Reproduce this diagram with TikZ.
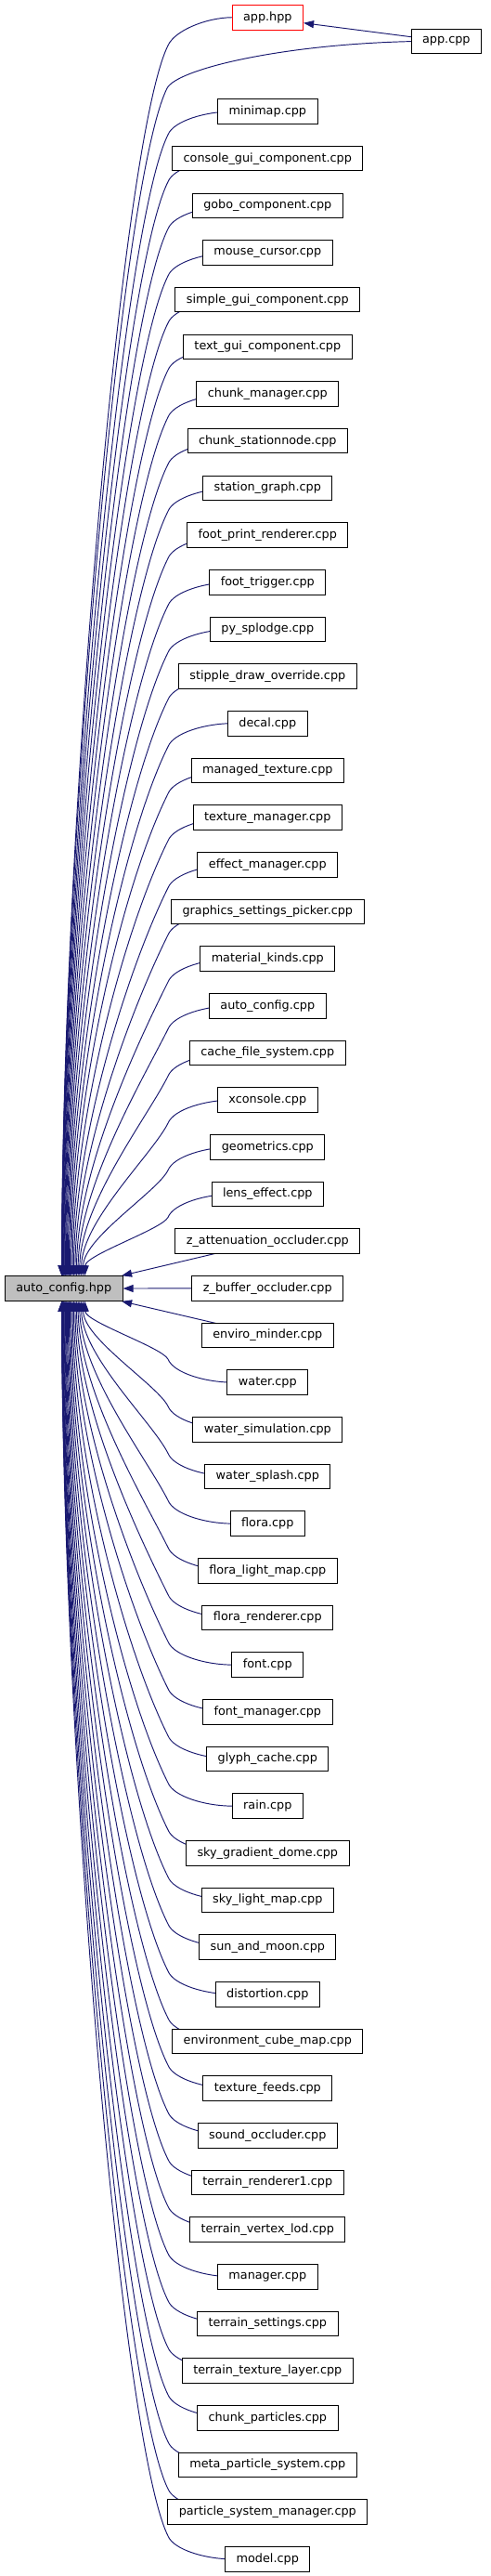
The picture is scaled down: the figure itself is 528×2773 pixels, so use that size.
\documentclass[tikz,border=0pt]{standalone}
\usepackage{fontspec}
\setmainfont{DejaVu Sans}
\usetikzlibrary{arrows.meta,calc}
\pgfdeclarelayer{bg}
\pgfsetlayers{bg,main}
\definecolor{edgeblue}{HTML}{191970}
\definecolor{hdrgray}{HTML}{BFBFBF}
\tikzset{
  filebox/.style={draw=black, fill=white, line width=1pt, minimum height=26.6pt,
    inner xsep=12pt, inner ysep=0pt, font=\fontsize{12.8}{15}\selectfont},
  incl/.style={draw=edgeblue, line width=0.95pt, -{Triangle[length=11pt,width=8pt]}}
}
\begin{document}
\begin{tikzpicture}[x=1pt,y=-1pt]
\begin{pgfonlayer}{bg}
  \fill[white] (0,0) rectangle (528,2773);
\end{pgfonlayer}
\useasboundingbox (0,0) rectangle (528,2773);

\node[filebox, draw=red] (apphpp) at (288.3,18.75) {app.hpp};
\node[filebox] (appcpp) at (480.8,44.6) {app.cpp};
\node[filebox, fill=hdrgray] (ac) at (68.7,1387) {auto\_config.hpp};

\foreach \i/\lab in {1/minimap.cpp, 2/console\_gui\_component.cpp, 3/gobo\_component.cpp,
  4/mouse\_cursor.cpp, 5/simple\_gui\_component.cpp, 6/text\_gui\_component.cpp,
  7/chunk\_manager.cpp, 8/chunk\_stationnode.cpp, 9/station\_graph.cpp,
  10/foot\_print\_renderer.cpp, 11/foot\_trigger.cpp, 12/py\_splodge.cpp,
  13/stipple\_draw\_override.cpp, 14/decal.cpp, 15/managed\_texture.cpp,
  16/texture\_manager.cpp, 17/effect\_manager.cpp, 18/graphics\_settings\_picker.cpp,
  19/material\_kinds.cpp, 20/auto\_config.cpp, 21/cache\_file\_system.cpp,
  22/xconsole.cpp, 23/geometrics.cpp, 24/lens\_effect.cpp,
  25/z\_attenuation\_occluder.cpp, 26/z\_buffer\_occluder.cpp, 27/enviro\_minder.cpp,
  28/water.cpp, 29/water\_simulation.cpp, 30/water\_splash.cpp, 31/flora.cpp,
  32/flora\_light\_map.cpp, 33/flora\_renderer.cpp, 34/font.cpp, 35/font\_manager.cpp,
  36/glyph\_cache.cpp, 37/rain.cpp, 38/sky\_gradient\_dome.cpp, 39/sky\_light\_map.cpp,
  40/sun\_and\_moon.cpp, 41/distortion.cpp, 42/environment\_cube\_map.cpp,
  43/texture\_feeds.cpp, 44/sound\_occluder.cpp, 45/terrain\_renderer1.cpp,
  46/terrain\_vertex\_lod.cpp, 47/manager.cpp, 48/terrain\_settings.cpp,
  49/terrain\_texture\_layer.cpp, 50/chunk\_particles.cpp,
  51/meta\_particle\_system.cpp, 52/particle\_system\_manager.cpp, 53/model.cpp} {
  \pgfmathsetmacro\yy{120+(\i-1)*50.67}
  \node[filebox] (n\i) at (288.3,\yy) {\lab};
}

\begin{pgfonlayer}{bg}
  % app.cpp -> app.hpp
  \draw[incl] (appcpp.center) -- ([yshift=-6pt]apphpp.east);
  % app.hpp -> auto_config.hpp
  \draw[incl] (apphpp.center) -- (250,18.75) .. controls (222,19) and (188,33) .. (181,49)
    .. controls (131,149) and (67,897) .. ([xshift=61.7pt]ac.north west);
  % app.cpp -> auto_config.hpp
  \draw[incl] (appcpp.center) -- (appcpp.west) .. controls (300,48) and (190,75) .. (180,95)
    .. controls (130,195) and (67.04,913) .. ([xshift=61.74pt]ac.north west);
  % nodes above
  \foreach \i in {1,...,24} {
    \pgfmathsetmacro\sy{120+(\i-1)*50.67}
    \pgfmathsetmacro\k{\i+1}
    \pgfmathsetmacro\tx{67+25*(\k/25)^2}
    \pgfmathsetmacro\dx{\tx-5.3}
    \pgfmathsetmacro\by{\sy+25}
    \pgfmathsetmacro\dY{1373.7-\by}
    \pgfmathsetmacro\a{min(100,0.2*\dY)}
    \pgfmathsetmacro\cax{181-0.5*\a}
    \pgfmathsetmacro\cay{\by+\a}
    \pgfmathsetmacro\cby{1373.7-0.36*\dY}
    \draw[incl] (n\i.center) -- (250,\sy) .. controls (222,\sy) and (187,\sy+10) .. (181,\by)
      .. controls (\cax,\cay) and (\tx,\cby) .. ([xshift=\dx pt]ac.north west);
  }
  % nearly level nodes
  \draw[incl] (n25.center) -- ([xshift=-1.5pt]ac.north east);
  \draw[incl] (n26.center) -- (ac.east);
  \draw[incl] (n27.center) -- ([xshift=-1.5pt]ac.south east);
  % nodes below
  \foreach \i in {28,...,53} {
    \pgfmathsetmacro\sy{120+(\i-1)*50.67}
    \pgfmathsetmacro\k{\i-28}
    \pgfmathsetmacro\tx{67+25*((25-\k)/25)^2}
    \pgfmathsetmacro\dx{\tx-5.3}
    \pgfmathsetmacro\by{\sy-25}
    \pgfmathsetmacro\dY{\by-1400.3}
    \pgfmathsetmacro\a{min(100,0.2*\dY)}
    \pgfmathsetmacro\cax{181-0.5*\a}
    \pgfmathsetmacro\cay{\by-\a}
    \pgfmathsetmacro\cby{1400.3+0.36*\dY}
    \draw[incl] (n\i.center) -- (250,\sy) .. controls (222,\sy) and (187,\sy-10) .. (181,\by)
      .. controls (\cax,\cay) and (\tx,\cby) .. ([xshift=\dx pt]ac.south west);
  }
\end{pgfonlayer}
\end{tikzpicture}
\end{document}
